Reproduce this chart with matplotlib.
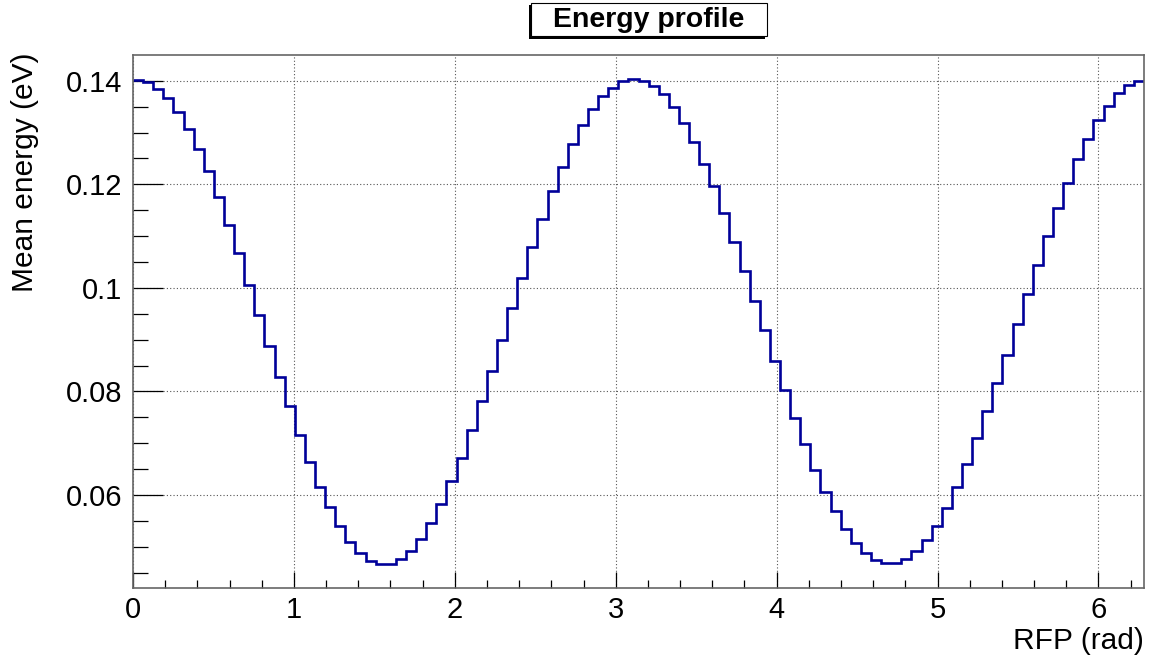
import numpy as np
import matplotlib
matplotlib.use("Agg")
import matplotlib.pyplot as plt
from matplotlib.patches import Rectangle
from matplotlib.ticker import MultipleLocator

# Mean energy per RFP bin (100 bins over 0..2pi)
mean_energy = [
    0.1401, 0.1398, 0.1384, 0.1366, 0.1339, 0.1307, 0.1269, 0.1225, 0.1175, 0.1122,
    0.1067, 0.1006, 0.0947, 0.0888, 0.0828, 0.0771, 0.0715, 0.0664, 0.0616, 0.0576,
    0.0540, 0.0509, 0.0488, 0.0472, 0.0467, 0.0467, 0.0476, 0.0491, 0.0515, 0.0546,
    0.0583, 0.0626, 0.0672, 0.0726, 0.0781, 0.0840, 0.0900, 0.0961, 0.1019, 0.1078,
    0.1133, 0.1187, 0.1234, 0.1277, 0.1315, 0.1346, 0.1371, 0.1387, 0.1400, 0.1403,
    0.1400, 0.1390, 0.1374, 0.1349, 0.1318, 0.1282, 0.1240, 0.1196, 0.1145, 0.1089,
    0.1033, 0.0975, 0.0918, 0.0858, 0.0803, 0.0748, 0.0698, 0.0649, 0.0605, 0.0568,
    0.0534, 0.0507, 0.0487, 0.0474, 0.0468, 0.0469, 0.0476, 0.0492, 0.0512, 0.0540,
    0.0574, 0.0615, 0.0660, 0.0709, 0.0762, 0.0816, 0.0871, 0.0931, 0.0988, 0.1045,
    0.1100, 0.1154, 0.1202, 0.1248, 0.1288, 0.1324, 0.1352, 0.1376, 0.1392, 0.1400,
]
n_bins = len(mean_energy)
x_min, x_max = 0.0, 2 * np.pi
bin_edges = np.linspace(x_min, x_max, n_bins + 1)

x_ticks = [0, 1, 2, 3, 4, 5, 6]
y_ticks = [0.06, 0.08, 0.10, 0.12, 0.14]
y_tick_labels = ["0.06", "0.08", "0.1", "0.12", "0.14"]

title_text = "Energy profile"
x_title = "RFP (rad)"
y_title = "Mean energy (eV)"

plt.rcParams["font.family"] = ["Liberation Sans", "DejaVu Sans"]

W, H = 1153, 660
fig = plt.figure(figsize=(W / 100, H / 100), dpi=100)
fig.patch.set_facecolor("white")

left, right, top, bottom = 133, 1144, 55, 588
ax = fig.add_axes([left / W, 1 - bottom / H, (right - left) / W, (bottom - top) / H])

ax.stairs(mean_energy, bin_edges, baseline=None, color="#000099", linewidth=1.9)

ymin, ymax = min(mean_energy), max(mean_energy)
margin = 0.05 * (ymax - ymin)
ax.set_xlim(x_min, x_max)
ax.set_ylim(ymin - margin, ymax + margin)

ax.set_xticks(x_ticks)
ax.set_xticklabels([str(t) for t in x_ticks])
ax.set_yticks(y_ticks)
ax.set_yticklabels(y_tick_labels)
ax.xaxis.set_minor_locator(MultipleLocator(0.2))
ax.yaxis.set_minor_locator(MultipleLocator(0.005))

ax.tick_params(axis="both", which="both", direction="in", top=False, right=False,
               labelsize=21, colors="black", width=0.9)
ax.tick_params(axis="y", which="major", length=21.6, pad=8)
ax.tick_params(axis="y", which="minor", length=10.8)
ax.tick_params(axis="x", which="major", length=11.5, pad=6)
ax.tick_params(axis="x", which="minor", length=5.8)

ax.grid(True, which="major", color="#555555", linestyle=(0, (1, 2)), linewidth=0.8)
ax.set_axisbelow(True)
for side in ax.spines.values():
    side.set_color("#666666")
    side.set_linewidth(1.2)

# axis titles placed at the axis ends
fig.text(1144 / W, 1 - 641 / H, x_title, ha="right", va="center", fontsize=21.5)
fig.text(25 / W, 1 - 53 / H, y_title, ha="center", va="top", rotation=90, fontsize=21.5)

# title box, darker edge on the left and bottom
bx0, bx1, by0, by1 = 531, 767, 3, 36
sh = 2.5
fig.add_artist(Rectangle(((bx0 - sh) / W, 1 - (by1 + sh) / H), (bx1 - bx0) / W, (by1 - by0) / H,
                         transform=fig.transFigure, facecolor="black", edgecolor="black", lw=0))
fig.add_artist(Rectangle((bx0 / W, 1 - by1 / H), (bx1 - bx0) / W, (by1 - by0) / H,
                         transform=fig.transFigure, facecolor="white", edgecolor="black", lw=0.8))
fig.text(649 / W, 1 - 27 / H, title_text, ha="center", va="baseline",
         fontsize=20.5, fontweight="bold")

fig.savefig("out.png", dpi=100)
